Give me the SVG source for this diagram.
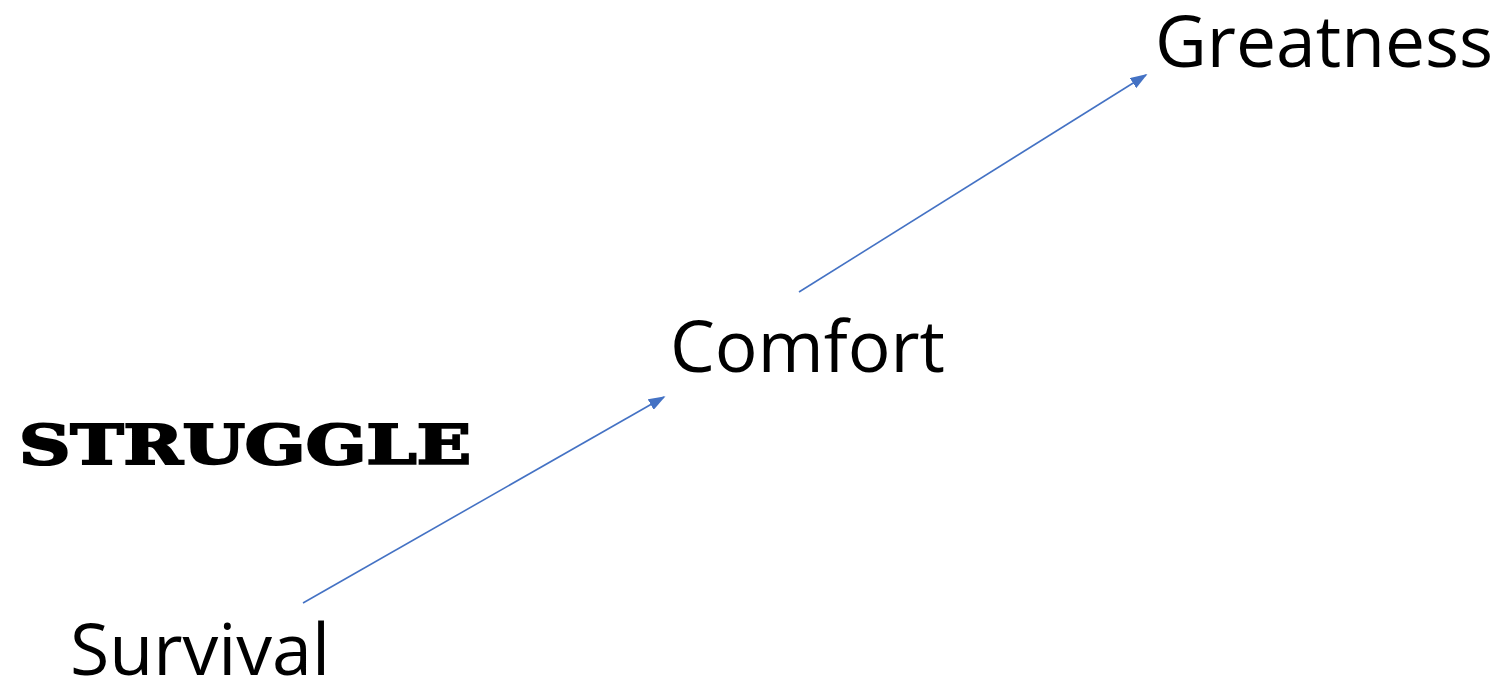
<svg xmlns="http://www.w3.org/2000/svg" width="1506" height="685" viewBox="0 0 1506 685">
<style>
.lbl{font-family:"Open Sans","Liberation Sans",sans-serif;font-size:72px;fill:#000}
.stg{font-family:"DejaVu Serif","Liberation Serif",serif;font-weight:bold;font-size:54px;fill:#000;stroke:#000;stroke-width:2.2}
.con{stroke:#4472C4;stroke-width:1.6;fill:none;marker-end:url(#ah)}
</style>
<defs>
<marker id="ah" viewBox="0 0 10 10" refX="9" refY="5" markerWidth="17" markerHeight="12" markerUnits="userSpaceOnUse" orient="auto" preserveAspectRatio="none">
<path d="M0,0 L10,5 L0,10 z" fill="#4472C4"/>
</marker>
</defs>
<rect width="1506" height="685" fill="#fff"/>
<g id="connectors">
<line class="con" x1="303" y1="603" x2="664" y2="397"/>
<line class="con" x1="799" y1="292" x2="1146" y2="75"/>
</g>
<g id="greatness"><text class="lbl" x="1155" y="67" textLength="338" lengthAdjust="spacingAndGlyphs">Greatness</text></g>
<g id="comfort"><text class="lbl" x="670" y="372" textLength="275" lengthAdjust="spacingAndGlyphs">Comfort</text></g>
<g id="survival"><text class="lbl" x="70" y="675" textLength="260" lengthAdjust="spacingAndGlyphs">Survival</text></g>
<g id="struggle"><text class="stg" x="19" y="464" textLength="452" lengthAdjust="spacingAndGlyphs">STRUGGLE</text></g>
</svg>
